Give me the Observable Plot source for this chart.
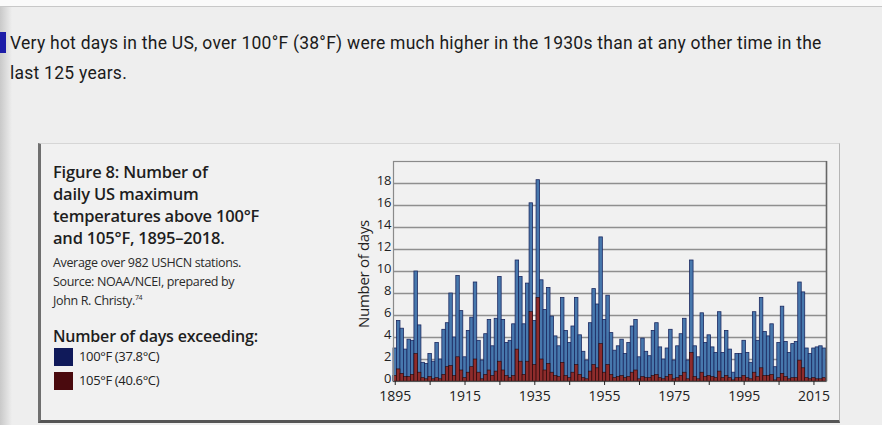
<!DOCTYPE html>
<html>
<head>
<meta charset="utf-8">
<script src="https://cdn.jsdelivr.net/npm/d3@7"></script>
<script src="https://cdn.jsdelivr.net/npm/@observablehq/plot@0.6"></script>
<style>
  html, body { margin: 0; padding: 0; }
  body { width: 882px; height: 425px; overflow: hidden; background: #eeeeee; position: relative; font-family: "Open Sans", sans-serif; }
  .abs { position: absolute; white-space: nowrap; }
  #topband { left: 0; top: 0; width: 882px; height: 6px; background: #fafafa; border-bottom: 1px solid #c8c8c8; }
  #leftshade { left: 0; top: 7px; width: 12px; height: 418px; background: linear-gradient(to right, #c9c9c9, #eeeeee); }
  #marker { left: 0; top: 32px; width: 6px; height: 21px; background: #1c1ca8; }
  .head { font-family: Roboto, sans-serif; font-size: 17.5px; letter-spacing: 0.25px; color: #1b1b1b; left: 10px; }
  #box { left: 38px; top: 143px; width: 798px; height: 276px; background: #f1f1f1; border-top: 1px solid #d6d6d6; border-right: 1px solid #b5b5b5; border-left: 3px solid #6f6f6f; border-bottom: 3px solid #555; }
  .ftitle { font-weight: 600; font-size: 16.5px; letter-spacing: -0.2px; color: #1e1e1e; left: 53px; }
  .fsmall { font-size: 12.5px; letter-spacing: -0.35px; color: #2a2a2a; left: 53px; }
  .sw { width: 19px; height: 18px; left: 54px; }
  .leg { font-size: 13px; letter-spacing: -0.35px; color: #222; left: 79px; }
  #ylab { left: 363px; top: 274px; transform: translate(-50%, -50%) rotate(-90deg); font-size: 15px; letter-spacing: -0.3px; color: #222; }
  #chart { left: 330px; top: 150px; }
</style>
</head>
<body>
<div id="topband" class="abs"></div>
<div id="leftshade" class="abs"></div>
<div id="marker" class="abs"></div>
<div class="abs head" style="top:33px;">Very hot days in the US, over 100°F (38°F) were much higher in the 1930s than at any other time in the</div>
<div class="abs head" style="top:63px;">last 125 years.</div>

<div id="box" class="abs"></div>
<div class="abs ftitle" style="top:160px;">Figure 8: Number of</div>
<div class="abs ftitle" style="top:182px;">daily US maximum</div>
<div class="abs ftitle" style="top:204px;">temperatures above 100°F</div>
<div class="abs ftitle" style="top:226px;">and 105°F, 1895–2018.</div>
<div class="abs fsmall" style="top:254px;">Average over 982 USHCN stations.</div>
<div class="abs fsmall" style="top:273px;">Source: NOAA/NCEI, prepared by</div>
<div class="abs fsmall" style="top:292px;">John R. Christy.<sup style="font-size:7px;">74</sup></div>
<div class="abs ftitle" style="top:325px; font-size:16px;">Number of days exceeding:</div>
<div class="abs sw" style="top:348px; background:#101a5a;"></div>
<div class="abs leg" style="top:347px;">100°F (37.8°C)</div>
<div class="abs sw" style="top:372px; background:#4a0a0e;"></div>
<div class="abs leg" style="top:371px;">105°F (40.6°C)</div>

<div id="ylab" class="abs">Number of days</div>
<div id="chart" class="abs"></div>

<script>
const years = d3.range(1895, 2019);
const days100 = [
  3.0, 5.5, 4.8, 2.9, 3.8, 3.7, 10.0, 5.1, 1.7, 1.6,
  2.5, 1.8, 3.5, 2.0, 4.7, 5.3, 8.0, 4.0, 9.6, 6.4,
  2.2, 4.6, 5.8, 9.0, 3.7, 1.9, 4.3, 5.6, 3.2, 5.7,
  9.5, 5.6, 3.5, 3.7, 5.2, 11.0, 9.5, 5.2, 8.9, 16.2,
  5.5, 18.3, 9.2, 6.5, 8.5, 5.9, 4.1, 3.2, 7.6, 4.6,
  3.5, 5.0, 7.6, 4.2, 2.7, 1.9, 5.3, 8.4, 7.0, 13.1,
  5.6, 7.8, 4.4, 2.8, 3.2, 3.8, 2.5, 3.5, 5.0, 5.6,
  2.2, 3.9, 2.7, 2.3, 4.6, 5.3, 3.1, 2.0, 3.0, 4.7,
  1.9, 3.2, 4.3, 5.7, 1.9, 11.0, 3.2, 2.2, 6.2, 3.5,
  4.2, 3.1, 2.6, 6.3, 2.6, 4.6, 2.9, 0.8, 2.5, 2.5,
  3.7, 2.6, 1.7, 6.3, 3.7, 7.6, 4.5, 4.1, 5.2, 1.3,
  3.5, 6.8, 3.6, 2.6, 3.4, 3.6, 9.0, 8.1, 3.0, 2.5,
  3.0, 3.1, 3.2, 3.0
];
const days105 = [
  0.5, 1.1, 0.7, 0.4, 0.4, 0.6, 2.5, 0.8, 0.3, 0.2,
  0.4, 0.2, 0.3, 0.2, 0.6, 1.3, 1.4, 0.5, 2.2, 1.0,
  0.3, 0.8, 1.3, 2.0, 0.8, 0.2, 0.6, 1.0, 0.5, 0.9,
  1.8, 1.0, 0.5, 0.3, 0.5, 2.9, 1.8, 0.6, 1.8, 6.3,
  1.5, 7.6, 2.0, 1.0, 1.6, 0.8, 0.5, 0.4, 1.7, 0.5,
  0.3, 0.8, 1.5, 0.6, 0.3, 0.2, 0.9, 1.5, 1.2, 3.4,
  0.8, 1.5, 0.6, 0.3, 0.4, 0.5, 0.3, 0.4, 0.8, 1.0,
  0.2, 0.4, 0.3, 0.3, 0.5, 0.6, 0.3, 0.2, 0.4, 0.6,
  0.2, 0.3, 0.5, 0.8, 0.2, 2.6, 0.4, 0.2, 0.8, 0.4,
  0.5, 0.4, 0.3, 0.9, 0.3, 0.5, 0.3, 0.1, 0.3, 0.3,
  0.5, 0.3, 0.2, 0.8, 0.4, 1.2, 0.5, 0.5, 0.6, 0.1,
  0.3, 0.7, 0.4, 0.2, 0.3, 0.3, 1.9, 1.2, 0.3, 0.2,
  0.3, 0.2, 0.2, 0.3
];
const yTicks = [0, 2, 4, 6, 8, 10, 12, 14, 16, 18];
const xLabels = [1895, 1915, 1935, 1955, 1975, 1995, 2015];
const xTickYears = d3.range(1895, 2019, 10);

const data = years.map((year, i) => ({year, d100: days100[i], d105: days105[i]}));

const chart = Plot.plot({
  width: 506,
  height: 262,
  marginLeft: 63,
  marginRight: 10,
  marginTop: 11,
  marginBottom: 31,
  style: {background: "transparent", fontFamily: "'Open Sans', sans-serif", fontSize: "14px", color: "#222"},
  x: {domain: [1894.5, 2018.6]},
  y: {domain: [0, 20]},
  marks: [
    Plot.gridY(yTicks.slice(1), {stroke: "#8f8f8f", strokeOpacity: 1, strokeWidth: 1.3}),
    Plot.rect(data, {x1: d => d.year - 0.5, x2: d => d.year + 0.5, y1: 0, y2: "d100",
      fill: "#4778ad", stroke: "#1b2860", strokeWidth: 0.8}),
    Plot.rect(data, {x1: d => d.year - 0.5, x2: d => d.year + 0.5, y1: 0, y2: "d105",
      fill: "#8e2c2c", stroke: "#250606", strokeWidth: 0.6}),
    Plot.frame({stroke: "#8a8a8a", strokeWidth: 1.2}),
    Plot.ruleX([2018.6], {stroke: "#666", strokeWidth: 1.5}),
    Plot.ruleY([0], {stroke: "#555", strokeWidth: 1.2}),
    Plot.axisY({ticks: yTicks, tickSize: 0, tickPadding: 2, label: null, fontSize: 13, dy: -3}),
    Plot.axisX({ticks: xTickYears, tickSize: 4, tickPadding: 6, label: null, fontSize: 14,
      tickFormat: d => xLabels.includes(d) ? String(d) : ""})
  ]
});
document.getElementById("chart").appendChild(chart);
</script>
</body>
</html>
